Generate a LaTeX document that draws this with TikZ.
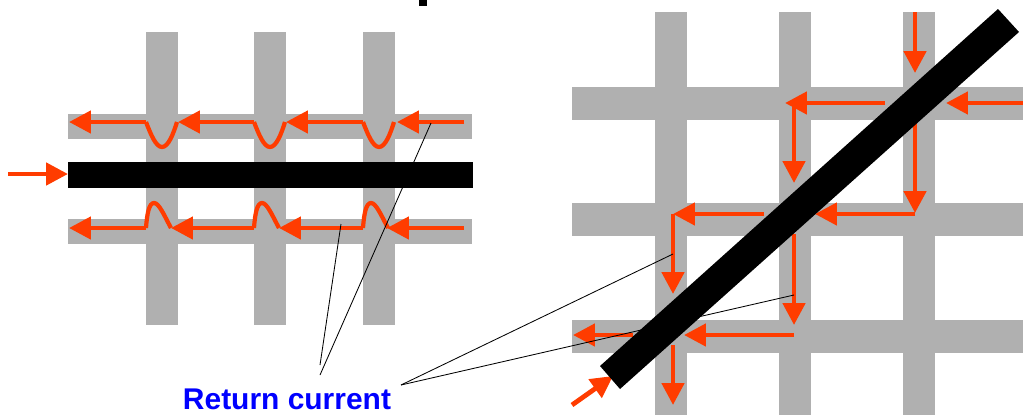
\documentclass[tikz,border=0pt]{standalone}
\usepackage{fontspec}
\setmainfont{Liberation Sans}
\usetikzlibrary{arrows.meta}
\definecolor{bargray}{HTML}{B0B0B0}
\definecolor{currentred}{HTML}{FF3C00}
\tikzset{
    bar/.style={fill=bargray, draw=none},
    wire/.style={fill=black, draw=none},
    current/.style={draw=currentred, line width=3.4pt, -{Triangle[length=15.6pt, width=15.6pt]}},
    wave/.style={draw=currentred, line width=3pt},
    leader/.style={draw=black, line width=0.6pt},
}
\begin{document}
\begin{tikzpicture}[x=0.025cm, y=-0.025cm]
    \useasboundingbox (0,0) rectangle (1023,415);

    % Left grid
    \foreach \x in {146,254,363}
        \fill[bar] (\x,32) rectangle (\x+32,325);
    \foreach \y in {114,219}
        \fill[bar] (68,\y) rectangle (472,\y+25);

    % Left return current
    \draw[current] (464,122) -- (397,122);
    \draw[current] (363,122) -- (286,122);
    \draw[current] (254,122) -- (178,122);
    \draw[current] (146,122) -- (69,122);
    \draw[current] (464,228) -- (387,228);
    \draw[current] (363,228) -- (279,228);
    \draw[current] (254,228) -- (171,228);
    \draw[current] (146,228) -- (69,228);
    \foreach \x in {146,254,363} {
        \draw[wave] (\x,122) .. controls (\x+5,135) and (\x+10,147) .. (\x+16,147)
            .. controls (\x+22,147) and (\x+27,135) .. (\x+31,122);
        \draw[wave] (\x,228) .. controls (\x+1,214) and (\x+3,203) .. (\x+8,203)
            .. controls (\x+13,203) and (\x+18,215) .. (\x+25,228);
    }
    \draw[current] (8,174) -- (68,174);

    % Right grid
    \foreach \x in {655,779,903}
        \fill[bar] (\x,12) rectangle (\x+32,415);
    \foreach \y in {87,203,320}
        \fill[bar] (572,\y) rectangle (1023,\y+32.5);

    % Right return current
    \draw[current] (915,12) -- (915,73);
    \draw[current] (1023,103) -- (946,103);
    \draw[current] (885,103) -- (785,103);
    \draw[current] (794,103) -- (794,183);
    \draw[current] (915,123) -- (915,213);
    \draw[current] (915,214) -- (815,214);
    \draw[current] (764,214) -- (673,214);
    \draw[current] (673,214) -- (673,294);
    \draw[current] (794,234) -- (794,325);
    \draw[current] (794,335) -- (684,335);
    \draw[current] (633,335) -- (573,335);
    \draw[current] (673,345) -- (673,405);
    \draw[current] (572,405) -- (613,376);

    % Label and leaders
    \node[anchor=base, text=blue, font=\bfseries\fontsize{21.3pt}{24pt}\selectfont, inner sep=0pt] (returnlabel) at (287,409) {Return current};
    \coordinate (leftapexa) at (320,365);
    \coordinate (leftapexb) at (320,375);
    \coordinate (rightapex) at (401,385);
    \coordinate (lowercurrent) at (341,224);
    \coordinate (uppercurrent) at (431,123);
    \coordinate (diagcurrenta) at (673,254);
    \coordinate (diagcurrentb) at (794,295);
    \draw[leader] (leftapexa) -- (lowercurrent);
    \draw[leader] (leftapexb) -- (uppercurrent);
    \draw[leader] (rightapex) -- (diagcurrenta);
    \draw[leader] (rightapex) -- (diagcurrentb);

    % Signal wires
    \fill[wire] (68,162) rectangle (473,188);
    \fill[wire] (998,9) -- (1019,32) -- (620,389) -- (600,366) -- cycle;
    \fill[wire] (419,0) rectangle (427,5.5);
\end{tikzpicture}
\end{document}
